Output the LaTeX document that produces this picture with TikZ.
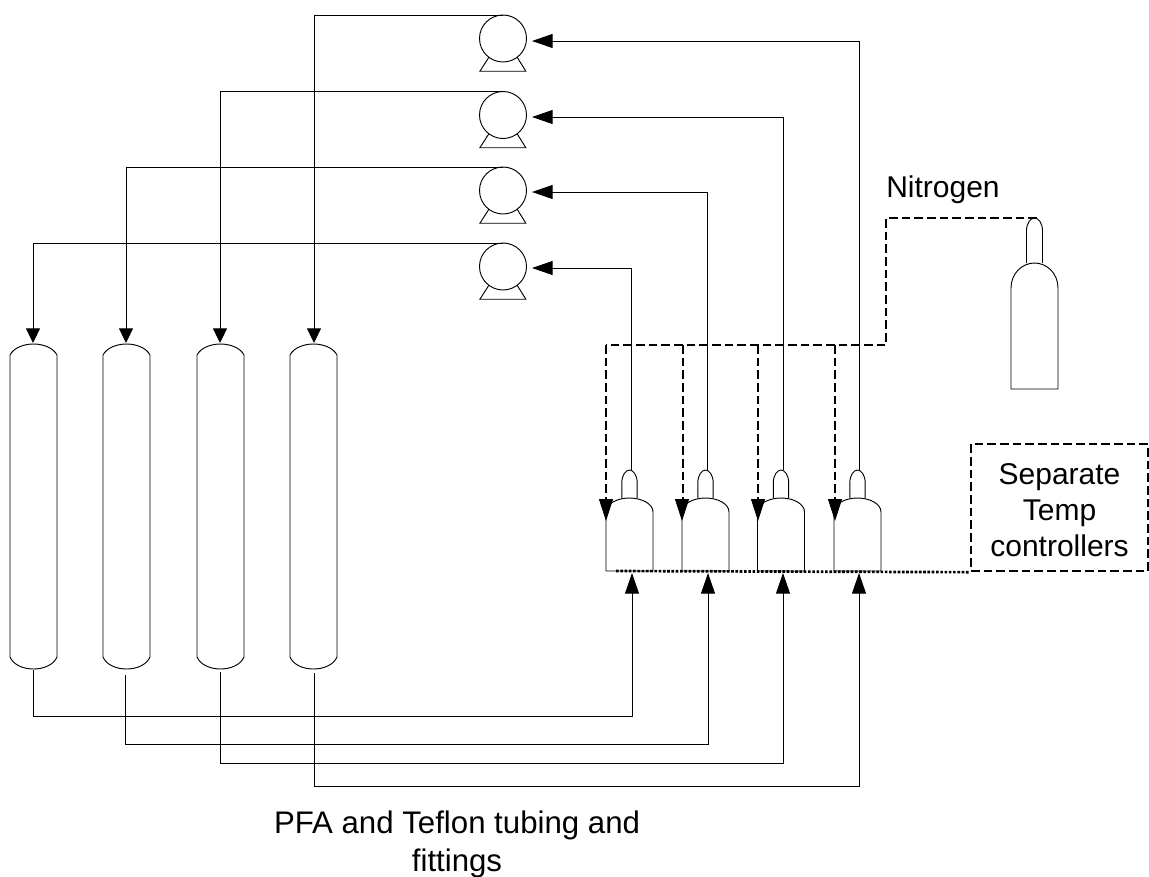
\documentclass[tikz,border=0pt]{standalone}
\usepackage{fontspec}
\setmainfont{Liberation Sans}
\usetikzlibrary{arrows.meta,positioning}
\tikzset{
  tube/.style={line width=.7pt,-{Triangle[length=15.5pt,width=10.5pt]}},
  shorttube/.style={line width=.7pt,-{Triangle[length=11pt,width=10.5pt]}},
  gasline/.style={line width=1.75pt,dash pattern=on 6.5pt off 3pt},
  vessel/.style={line width=.7pt},
  pump/.style={circle,draw,line width=.7pt,minimum size=35.25pt,inner sep=0pt,outer sep=0pt},
  lbl/.style={font=\fontsize{22.5}{27}\selectfont,align=center,inner sep=0pt},
}
% #1 centre, #2 half width of neck, then y levels: neck shoulder, body top, body shoulder, bottom
\newcommand{\Bottle}[6]{
  \draw[vessel] ({#1-#2},#4) -- ({#1-#2},#3)
    .. controls ({#1-#2},{#3-8}) and ({#1-#2+4},{#3-13}) .. (#1,{#3-13})
    .. controls ({#1+#2-4},{#3-13}) and ({#1+#2},{#3-8}) .. ({#1+#2},#3) -- ({#1+#2},#4);
  \draw[vessel] ({#1-23.5},#6) -- ({#1-23.5},#5)
    .. controls ({#1-23.5},{#5-(#5-#4)*.6}) and ({#1-12},#4) .. (#1,#4)
    .. controls ({#1+12},#4) and ({#1+23.5},{#5-(#5-#4)*.6}) .. ({#1+23.5},#5)
    -- ({#1+23.5},#6) -- cycle;
}
\newcommand{\Column}[1]{
  \draw[vessel] ({#1-23.5},355) .. controls ({#1-20},348) and ({#1-10},344) .. (#1,344)
    .. controls ({#1+10},344) and ({#1+20},348) .. ({#1+23.5},355)
    -- ({#1+23.5},657) .. controls ({#1+20},665) and ({#1+10},669) .. (#1,669)
    .. controls ({#1-10},669) and ({#1-20},665) .. ({#1-23.5},657) -- cycle;
}
\begin{document}
\begin{tikzpicture}[x=.75pt,y=-.75pt]
  \useasboundingbox (0,0) rectangle (1149,876);

  % columns
  \foreach \cx in {33.5,126.5,220.5,313.5} {\Column{\cx}}
  \coordinate (colA) at (33,343);
  \coordinate (colB) at (126,343);
  \coordinate (colC) at (220,343);
  \coordinate (colD) at (314,343);
  \coordinate (outA) at (33,670);
  \coordinate (outB) at (125,675);
  \coordinate (outC) at (220,672);
  \coordinate (outD) at (314,673);

  % pumps
  \node[pump] (pumpD) at (503,38.5) {};
  \node[pump] (pumpC) at (503,115) {};
  \node[pump] (pumpB) at (503,190.5) {};
  \node[pump] (pumpA) at (503,266.5) {};
  \foreach \p in {pumpA,pumpB,pumpC,pumpD}
    \draw[vessel] (\p.233) -- ++(-9,14) -- ++(46,0) -- (\p.307);
  \coordinate (inA) at (532,268);
  \coordinate (inB) at (532,192);
  \coordinate (inC) at (532,117);
  \coordinate (inD) at (532,41);

  \draw[shorttube] (pumpA.north) -| (colA);
  \draw[shorttube] (pumpB.north) -| (colB);
  \draw[shorttube] (pumpC.north) -| (colC);
  \draw[shorttube] (pumpD.north) -| (colD);

  % reactors
  \foreach \cx in {629.5,705.5,781,857.5} {\Bottle{\cx}{7.7}{483}{498}{512}{571}}
  \coordinate (topA) at (631,470);
  \coordinate (topB) at (707,470);
  \coordinate (topC) at (783,470);
  \coordinate (topD) at (859.5,470);
  \draw[tube] (topA) |- (inA);
  \draw[tube] (topB) |- (inB);
  \draw[tube] (topC) |- (inC);
  \draw[tube] (topD) |- (inD);

  % return lines
  \coordinate (baseA) at (632,573);
  \coordinate (baseB) at (708,573);
  \coordinate (baseC) at (783,573);
  \coordinate (baseD) at (859,573);
  \coordinate (lowA) at (33,716);
  \coordinate (lowB) at (125,744);
  \coordinate (lowC) at (220,763);
  \coordinate (lowD) at (314,786);
  \draw[tube] (outA) -- (lowA) -| (baseA);
  \draw[tube] (outB) -- (lowB) -| (baseB);
  \draw[tube] (outC) -- (lowC) -| (baseC);
  \draw[tube] (outD) -- (lowD) -| (baseD);

  % nitrogen
  \Bottle{1034.5}{8}{231}{263}{288}{389}
  \coordinate (gasTop) at (1037,218);
  \coordinate (gasKnee) at (886,345);
  \coordinate (gasEnd) at (606,345);
  \coordinate (dropB) at (683,345);
  \coordinate (dropC) at (758,345);
  \coordinate (dropD) at (835,345);
  \draw[gasline] (gasTop) -| (gasKnee) -- (gasEnd);
  \foreach \a/\b in {gasEnd/606,dropB/682,dropC/758,dropD/835} {
    \coordinate (tipOf\b) at (\b,521);
    \draw[gasline] (\a) -- ++(0,156);
    \draw[line width=.7pt,-{Triangle[length=16.5pt,width=10.5pt]}] (\b,498) -- (tipOf\b);
  }
  \node[lbl,anchor=west] (nitrogenlbl) at (886,190) {Nitrogen};

  % temperature controllers
  \node[draw,gasline,minimum width=132.75pt,minimum height=95.25pt] (tempbox) at (1059.5,507.5) {};
  \node[lbl] (templbl) at (1059.5,510.5) {Separate\\Temp\\controllers};
  \coordinate (wireStart) at (616,571);
  \draw[line width=2pt,dash pattern=on 2pt off 1.2pt] (wireStart) -- (tempbox.south west);

  \node[lbl,font=\fontsize{23.4}{28}\selectfont] (tubinglbl) at (457,844.5) {PFA and Teflon tubing and\\fittings};
\end{tikzpicture}
\end{document}
